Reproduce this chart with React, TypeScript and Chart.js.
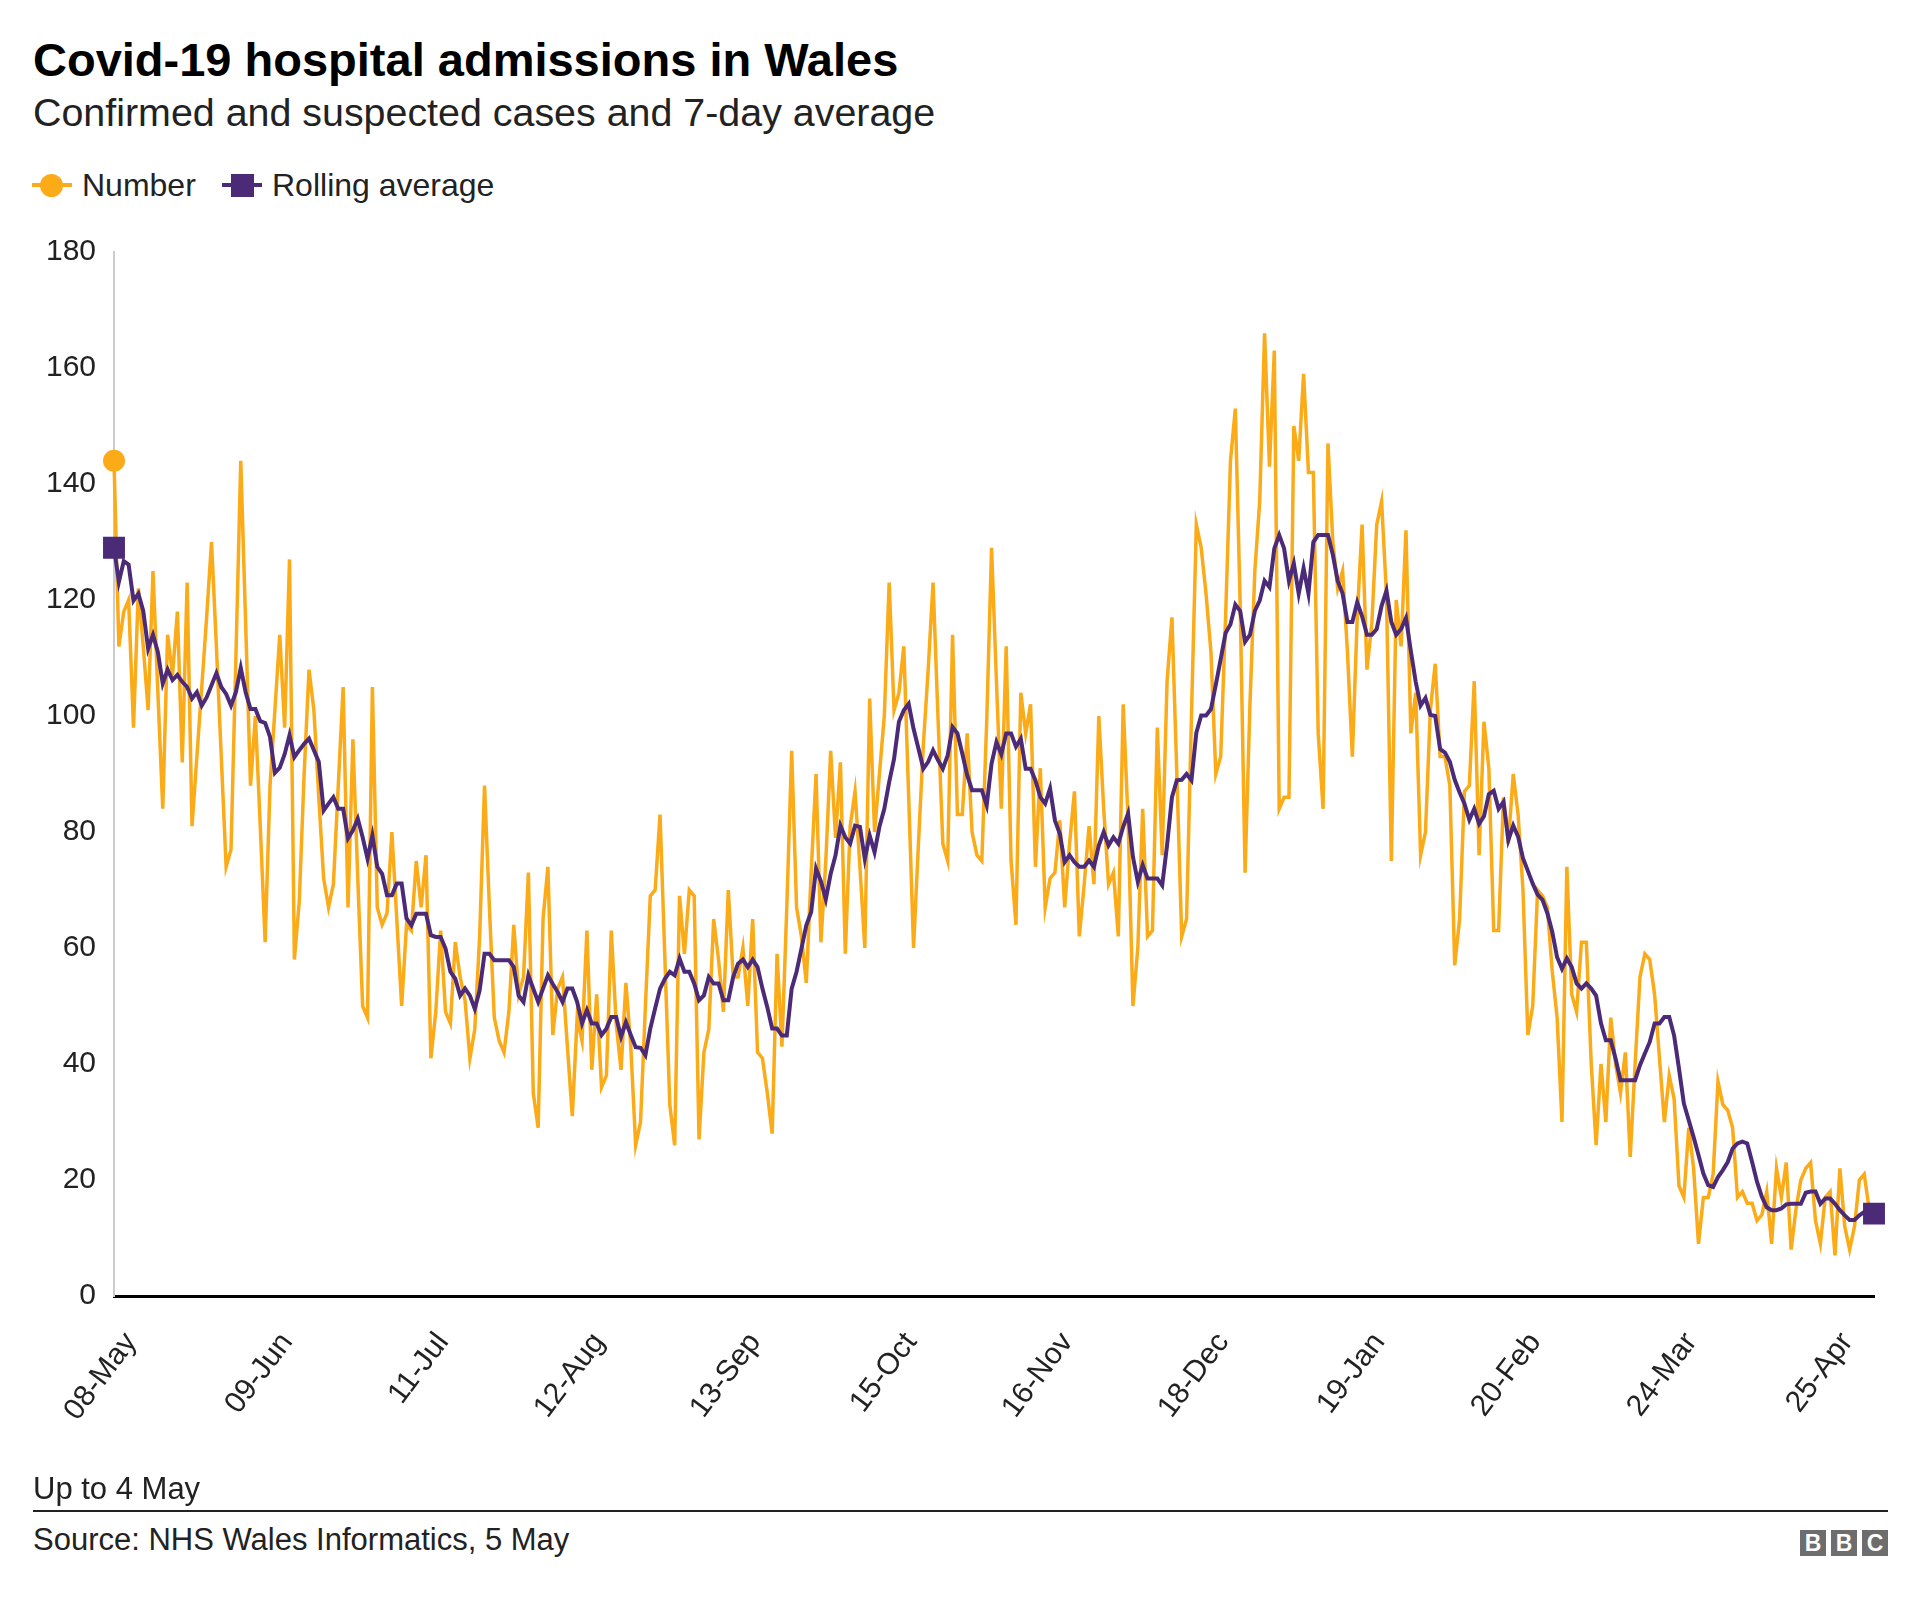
import React, { useEffect, useRef } from "react";
import { Chart, registerables } from "chart.js";

Chart.register(...registerables);

const dailyAdmissions: number[] = [
  144, 112, 118, 120, 98, 122, 112, 101, 125, 104,
  84, 114, 107, 118, 92, 123, 81, 93, 105, 117,
  130, 112, 93, 74, 77, 110, 144, 116, 88, 100,
  81, 61, 88, 101, 114, 98, 127, 58, 68, 90,
  108, 101, 86, 72, 67, 71, 88, 105, 67, 96,
  72, 50, 48, 105, 67, 64, 66, 80, 65, 50,
  64, 63, 75, 67, 76, 41, 49, 63, 49, 47,
  61, 55, 51, 41, 46, 62, 88, 67, 48, 44,
  42, 49, 64, 52, 55, 73, 35, 29, 65, 74,
  45, 53, 55, 43, 31, 48, 44, 63, 39, 52,
  36, 38, 63, 47, 39, 54, 43, 26, 30, 50,
  69, 70, 83, 58, 33, 26, 69, 59, 70, 69,
  27, 42, 46, 65, 58, 49, 70, 55, 55, 60,
  50, 65, 42, 41, 35, 28, 59, 43, 67, 94,
  67, 62, 54, 73, 90, 61, 75, 94, 79, 92,
  59, 81, 87, 74, 60, 103, 80, 90, 100, 123,
  101, 104, 112, 86, 60, 78, 95, 108, 123, 100,
  78, 75, 114, 83, 83, 97, 80, 76, 75, 99,
  129, 106, 84, 112, 75, 64, 104, 97, 102, 74,
  91, 67, 72, 73, 82, 67, 78, 87, 62, 71,
  81, 71, 100, 84, 71, 73, 62, 102, 82, 50,
  60, 84, 62, 63, 98, 76, 106, 117, 90, 62,
  65, 100, 133, 129, 121, 111, 90, 93, 117, 144,
  153, 119, 73, 102, 125, 137, 166, 143, 163, 84,
  86, 86, 150, 144, 159, 142, 142, 97, 84, 147,
  130, 122, 125, 111, 93, 117, 133, 108, 116, 133,
  137, 121, 75, 120, 112, 132, 97, 104, 76, 80,
  101, 109, 93, 93, 88, 57, 65, 87, 88, 106,
  76, 99, 91, 63, 63, 86, 78, 90, 83, 70,
  45, 50, 70, 69, 67, 56, 48, 30, 74, 52,
  49, 61, 61, 40, 26, 40, 30, 48, 40, 35,
  42, 24, 40, 55, 59, 58, 52, 41, 30, 38,
  34, 19, 17, 29, 22, 9, 17, 17, 21, 37,
  33, 32, 29, 17, 18, 16, 16, 13, 14, 18,
  9, 22, 17, 23, 8, 15, 20, 22, 23, 13,
  9, 17, 18, 7, 22, 12, 8, 12, 20, 21,
  15, 14,
];

const rollingAverage: number[] = [
  129, 123.1, 126.7, 126.1, 119.9, 121.1, 118.1, 111.6, 114, 111,
  105.6, 108, 106.2, 107.1, 105.9, 105, 103, 104.1, 101.8, 103.2,
  105.3, 107.4, 105, 103.8, 101.8, 104.1, 108.3, 104.1, 101.2, 101.2,
  99.1, 98.8, 96.4, 90.2, 91.1, 93.4, 96.7, 92.9, 94.1, 95.2,
  96.1, 94.1, 92.1, 83.7, 84.9, 86, 84, 84, 78.9, 80.3,
  82.3, 79.1, 75.4, 79.4, 74, 72.8, 69.1, 69.1, 71.1, 71.1,
  65.1, 63.9, 65.9, 65.9, 65.9, 62.2, 61.9, 61.9, 59.9, 55.9,
  54.7, 51.8, 53, 51.8, 49.5, 52.7, 59, 59, 57.9, 57.9,
  57.9, 57.9, 56.7, 51.8, 50.7, 55.3, 53, 50.7, 53, 55.3,
  53.8, 52.4, 50.7, 53, 53, 50.7, 47, 49.3, 47, 47,
  45, 46.1, 48.1, 48.1, 44.7, 47.2, 45, 42.9, 42.8, 41.5,
  46.1, 49.6, 53, 54.7, 55.9, 55.3, 58.2, 55.9, 55.9, 53.9,
  51, 51.8, 55, 53.9, 53.9, 51, 51, 55, 57.3, 58,
  56.7, 58, 56.7, 53, 49.8, 46.1, 46.1, 44.9, 44.9, 53,
  55.9, 59.9, 63.9, 66.2, 73.7, 71.5, 68.4, 72.8, 76, 81.1,
  79.1, 78, 81.1, 80.9, 75.4, 79.4, 76.5, 80.9, 84, 88.6,
  92.6, 99, 101, 102.1, 97.8, 94.4, 90.9, 92.1, 94.1, 92.4,
  90.9, 93.2, 98.1, 97, 93.5, 89.8, 87.2, 87.2, 87.2, 84.6,
  91.8, 95.5, 93.4, 97, 97, 94.7, 96.1, 90.9, 90.9, 88.9,
  86, 84.9, 87.5, 82, 79.7, 74.8, 76, 74.8, 74, 74,
  75.1, 74, 77.7, 80, 77.7, 79.1, 78, 80.9, 83.2, 75.7,
  71.4, 74.3, 72, 72, 72, 70.8, 77.7, 86, 88.9, 89,
  90, 88.9, 97.1, 100.1, 100.1, 101.2, 105.4, 109.8, 114.3, 115.8,
  119.2, 118.1, 112.8, 114, 118.1, 119.9, 123.3, 122.2, 128.9, 131.2,
  128.9, 123.3, 126.3, 121.1, 125.5, 121.1, 130, 131.2, 131.2, 131.2,
  127.8, 123.3, 121.1, 116.2, 116.2, 119.6, 117.2, 114, 114, 115,
  119, 121.6, 116.2, 114, 115, 116.9, 111.2, 105.9, 101.8, 103.1,
  100.2, 100, 94.3, 93.7, 92.1, 89, 86.8, 84.9, 82.1, 84,
  81.4, 82.7, 86.5, 87.1, 84, 85.2, 78.6, 81.1, 79.2, 75.5,
  73.3, 71.1, 69.2, 68.3, 66, 62.8, 58.4, 56.4, 58.2, 56.7,
  53.9, 53, 53.9, 53, 51.8, 47, 44.1, 44.1, 40.9, 37.2,
  37.2, 37.2, 37.2, 39.8, 41.8, 43.8, 47, 47, 48.1, 48.1,
  44.9, 39.2, 33.2, 30.3, 27.4, 24.3, 21.1, 19.1, 18.8, 20.5,
  21.7, 23.1, 25.4, 26.3, 26.6, 26.3, 23.1, 19.7, 17.1, 15.3,
  14.8, 14.8, 15.1, 15.8, 15.9, 15.9, 15.9, 17.8, 18, 18,
  15.9, 16.8, 16.8, 15.9, 14.8, 13.9, 13.1, 13.1, 13.9, 14.5,
  14.2, 14.2,
];

const tickLabels: string[] = [
  "08-May", "09-Jun", "11-Jul", "12-Aug", "13-Sep", "15-Oct",
  "16-Nov", "18-Dec", "19-Jan", "20-Feb", "24-Mar", "25-Apr",
];
const TICK_EVERY_DAYS = 32;

const MONTHS = ["Jan", "Feb", "Mar", "Apr", "May", "Jun", "Jul", "Aug", "Sep", "Oct", "Nov", "Dec"];
const START_UTC = Date.UTC(2020, 4, 8);
const dayLabels: string[] = dailyAdmissions.map((_, i) => {
  const d = new Date(START_UTC + i * 86400000);
  return String(d.getUTCDate()).padStart(2, "0") + "-" + MONTHS[d.getUTCMonth()];
});

const ORANGE = "#fbab18";
const PURPLE = "#4b2a78";
const FONT = "'Liberation Sans', Arial, Helvetica, sans-serif";

export default function App() {
  const canvasRef = useRef<HTMLCanvasElement | null>(null);

  useEffect(() => {
    document.body.style.margin = "0";
    const canvas = canvasRef.current;
    if (!canvas) return;
    const last = rollingAverage.length - 1;
    const chart = new Chart(canvas, {
      type: "line",
      data: {
        labels: dayLabels,
        datasets: [
          {
            label: "Rolling average",
            data: rollingAverage,
            borderColor: PURPLE,
            backgroundColor: PURPLE,
            borderWidth: 4,
            tension: 0,
            pointStyle: "rect",
            pointRadius: rollingAverage.map((_, i) => (i === 0 || i === last ? 15.5 : 0)),
            pointBorderWidth: 0,
            pointHoverRadius: 0,
          },
          {
            label: "Number",
            data: dailyAdmissions,
            borderColor: ORANGE,
            backgroundColor: ORANGE,
            borderWidth: 3.5,
            tension: 0,
            pointStyle: "circle",
            pointRadius: dailyAdmissions.map((_, i) => (i === 0 ? 11 : 0)),
            pointBorderWidth: 0,
            pointHoverRadius: 0,
          },
        ],
      },
      options: {
        animation: false,
        responsive: false,
        maintainAspectRatio: false,
        devicePixelRatio: 1,
        layout: { padding: { top: 6, right: 46, bottom: 0, left: 0 } },
        plugins: { legend: { display: false }, tooltip: { enabled: false } },
        scales: {
          x: {
            type: "category",
            offset: false,
            grid: { display: false, drawTicks: false },
            border: { display: true, color: "#000", width: 3 },
            ticks: {
              autoSkip: false,
              minRotation: 53,
              maxRotation: 53,
              padding: 30,
              labelOffset: 17,
              color: "#222",
              font: { family: FONT, size: 30 },
              callback: (_v: any, index: number) =>
                index % TICK_EVERY_DAYS === 0 ? tickLabels[index / TICK_EVERY_DAYS] : null,
            },
            afterFit: (scale: any) => {
              scale.height = 184;
            },
          },
          y: {
            min: 0,
            max: 180,
            grid: { display: false, drawTicks: false },
            border: { display: true, color: "#cccccc", width: 2 },
            ticks: {
              stepSize: 20,
              padding: 18,
              color: "#222",
              font: { family: FONT, size: 30 },
            },
            afterFit: (scale: any) => {
              scale.width = 114;
            },
          },
        },
      },
    });
    return () => chart.destroy();
  }, []);

  const text: React.CSSProperties = {
    position: "absolute",
    margin: 0,
    lineHeight: 1,
    whiteSpace: "nowrap",
    color: "#222",
  };

  return (
    <div
      style={{
        position: "relative",
        width: 1920,
        height: 1597,
        background: "#fff",
        fontFamily: FONT,
        overflow: "hidden",
      }}
    >
      <div style={{ ...text, left: 33, top: 36, fontSize: 47, fontWeight: 700, color: "#000" }}>
        Covid-19 hospital admissions in Wales
      </div>
      <div style={{ ...text, left: 33, top: 93, fontSize: 39.4 }}>
        Confirmed and suspected cases and 7-day average
      </div>

      {/* legend */}
      <div style={{ position: "absolute", left: 32, top: 183, width: 40, height: 4, background: ORANGE }} />
      <div
        style={{
          position: "absolute",
          left: 40,
          top: 173.5,
          width: 23,
          height: 23,
          borderRadius: "50%",
          background: ORANGE,
        }}
      />
      <div style={{ ...text, left: 82, top: 169, fontSize: 32 }}>Number</div>
      <div style={{ position: "absolute", left: 222, top: 183, width: 40, height: 4, background: PURPLE }} />
      <div style={{ position: "absolute", left: 230.5, top: 173.5, width: 23, height: 23, background: PURPLE }} />
      <div style={{ ...text, left: 272, top: 169, fontSize: 32 }}>Rolling average</div>

      <canvas
        ref={canvasRef}
        width={1920}
        height={1264}
        style={{ position: "absolute", left: 0, top: 216, width: 1920, height: 1264 }}
      />

      <div style={{ ...text, left: 33, top: 1473, fontSize: 31 }}>Up to 4 May</div>
      <div style={{ position: "absolute", left: 33, top: 1510, width: 1855, height: 2, background: "#222" }} />
      <div style={{ ...text, left: 33, top: 1524, fontSize: 31 }}>Source: NHS Wales Informatics, 5 May</div>

      {["B", "B", "C"].map((ch, i) => (
        <div
          key={i}
          style={{
            position: "absolute",
            left: 1800 + i * 31,
            top: 1530,
            width: 26,
            height: 26,
            background: "#6d6d6d",
            color: "#fff",
            fontWeight: 700,
            fontSize: 23,
            lineHeight: "26px",
            textAlign: "center",
          }}
        >
          {ch}
        </div>
      ))}
    </div>
  );
}
